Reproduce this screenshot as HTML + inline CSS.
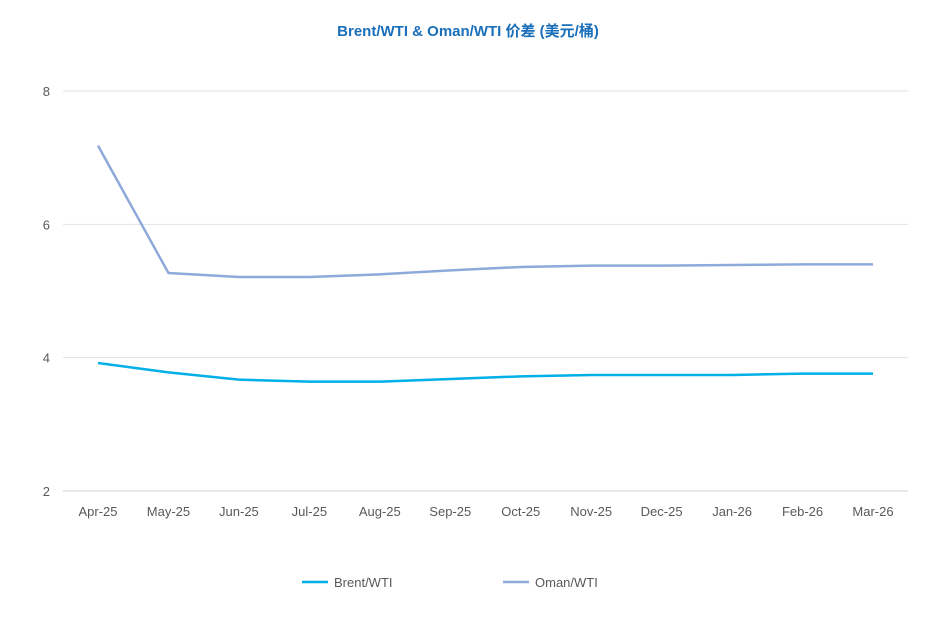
<!DOCTYPE html>
<html><head><meta charset="utf-8"><style>
body{margin:0;background:#fff;}
svg text{font-family:"Liberation Sans","Noto Sans CJK SC",sans-serif;}
</style></head><body>
<svg width="937" height="634" viewBox="0 0 937 634">
<text x="468" y="36" text-anchor="middle" font-size="15" font-weight="bold" fill="#1a6fba">Brent/WTI &amp; Oman/WTI 价差 (美元/桶)</text>
<g id="grid"></g><g id="xlab"></g><g id="lines"></g>
<g>
<line x1="302" y1="582" x2="328" y2="582" stroke="#00b0e6" stroke-width="2.5"/>
<text x="334" y="587" font-size="13" fill="#595959">Brent/WTI</text>
<line x1="503" y1="582" x2="529" y2="582" stroke="#8eaadb" stroke-width="2.5"/>
<text x="535" y="587" font-size="13" fill="#595959">Oman/WTI</text>
</g>
</svg>
<script>
const categories=["Apr-25","May-25","Jun-25","Jul-25","Aug-25","Sep-25","Oct-25","Nov-25","Dec-25","Jan-26","Feb-26","Mar-26"];
const brent=[3.92,3.78,3.67,3.64,3.64,3.68,3.72,3.74,3.74,3.74,3.76,3.76];
const oman=[7.18,5.27,5.21,5.21,5.25,5.31,5.36,5.38,5.38,5.39,5.40,5.40];
const yTicks=[2,4,6,8];
const NS="http://www.w3.org/2000/svg";
function y(v){return 491-(v-2)*(491-91)/6;}
function x(i){return 98+i*(873-98)/(categories.length-1);}
function mk(t,a,p){const e=document.createElementNS(NS,t);for(const k in a)e.setAttribute(k,a[k]);document.getElementById(p).appendChild(e);return e;}
yTicks.forEach(v=>{
 const l=mk('line',{x1:63,x2:908,y1:y(v),y2:y(v),stroke:v===2?'#d0d0d0':'#e3e3e3','stroke-width':1},'grid');
 
 
 const t=mk('text',{x:50,y:y(v)+5,'text-anchor':'end','font-size':13,fill:'#595959'},'grid');
 t.textContent=v;
 
 
});
categories.forEach((c,i)=>{
 const t=mk('text',{x:x(i),y:516,'text-anchor':'middle','font-size':13,fill:'#595959'},'xlab');
 t.textContent=c;
 
 
});
function series(d,col,name){
 const p=mk('polyline',{points:d.map((v,i)=>x(i)+','+y(v)).join(' '),fill:'none',stroke:col,'stroke-width':2.5,'stroke-linejoin':'round'},'lines');
 
 
}
series(oman,'#8eaadb','oman-wti-line');
series(brent,'#00b0e6','brent-wti-line');
</script>
</body></html>
